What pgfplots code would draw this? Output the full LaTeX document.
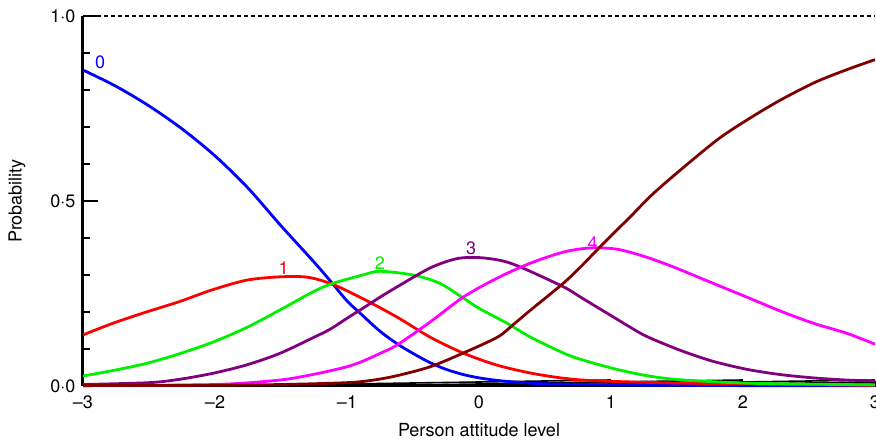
\documentclass[border=0pt]{standalone}
\usepackage{fontspec}
\setmainfont{TeX Gyre Heros}
\usepackage{pgfplots}
\pgfplotsset{compat=1.18}

\definecolor{cat0}{RGB}{0,0,255}
\definecolor{cat1}{RGB}{255,0,0}
\definecolor{cat2}{RGB}{0,240,0}
\definecolor{cat3}{RGB}{128,0,128}
\definecolor{cat4}{RGB}{255,0,255}
\definecolor{cat5}{RGB}{128,0,0}

\begin{document}
\begin{tikzpicture}
\begin{axis}[
	at={(83pt,57pt)},anchor=south west,
	scale only axis,width=792pt,height=370pt,
	xmin=-3,xmax=3,ymin=0,ymax=1,
	clip=false,
	axis x line=bottom,axis y line=left,
	axis line style={line width=3pt,-},
	tick align=inside,
	xtick={-3,...,3},
	xticklabels={–3,–2,–1,0,1,2,3},
	xtick style={draw=none},
	ytick={0,0.5,1},
	yticklabels={0·0,0·5,1·0},
	minor ytick={0.1,0.2,0.3,0.4,0.6,0.7,0.8,0.9},
	major tick length=15pt,minor tick length=7pt,
	tick style={black,line width=1.6pt},
	tick label style={font=\fontsize{18}{21}\selectfont},
	yticklabel style={xshift=-4pt},
	xticklabel style={yshift=-6pt},
	label style={font=\fontsize{18}{21}\selectfont},
	xlabel={Person attitude level},
	ylabel={Probability},
	xlabel style={at={(axis description cs:0.5,0)},anchor=north,yshift=-34pt},
	ylabel style={at={(axis description cs:0,0.5)},anchor=south,xshift=0pt,yshift=54pt},
	every axis plot/.append style={line width=2.8pt,smooth,tension=0.5,line join=round},
]
% small x ticks pointing up
\foreach \t in {-2,-1,0,1,2,3}{
	\edef\temp{\noexpand\draw[black,line width=1.6pt] (axis cs:\t,0) -- ++(0,6pt);}
	\temp
}
\draw[black,line width=1.2pt,dash pattern=on 4pt off 3pt] (axis cs:-3,1) -- (axis cs:3,1);

\addplot[cat0] coordinates {
(-3,0.854)(-2.75,0.81)(-2.5,0.757)(-2.25,0.695)(-2,0.622)(-1.75,0.535)
(-1.5,0.433)(-1.25,0.335)(-1.11,0.277)(-1,0.23)(-0.88,0.19)(-0.75,0.148)
(-0.62,0.114)(-0.5,0.088)(-0.37,0.063)(-0.25,0.045)(-0.12,0.031)(0,0.022)
(0.14,0.015)(0.3,0.01)(0.5,0.006)(1,0.003)(2,0.001)(3,0.0005)};
\addplot[cat1] coordinates {
(-3,0.138)(-2.77,0.17)(-2.52,0.20)(-2.27,0.228)(-2.02,0.26)(-1.76,0.286)
(-1.51,0.295)(-1.3,0.294)(-1.11,0.275)(-0.88,0.236)(-0.62,0.186)(-0.37,0.132)
(-0.12,0.089)(0.13,0.057)(0.39,0.035)(0.64,0.021)(0.89,0.014)(1.5,0.008)
(2.4,0.004)(3,0.002)};
\addplot[cat2] coordinates {
(-3,0.027)(-2.77,0.042)(-2.52,0.061)(-2.27,0.087)(-2.02,0.118)(-1.76,0.158)
(-1.51,0.205)(-1.26,0.254)(-1.11,0.277)(-0.88,0.30)(-0.75,0.31)(-0.5,0.30)
(-0.3,0.278)(-0.12,0.238)(0,0.21)(0.21,0.17)(0.39,0.132)(0.64,0.089)
(0.77,0.072)(1.02,0.047)(1.27,0.028)(1.52,0.017)(2,0.008)(2.5,0.005)(3,0.003)};
\addplot[cat3] coordinates {
(-3,0.004)(-2.5,0.009)(-2.27,0.018)(-2.02,0.034)(-1.76,0.057)(-1.51,0.088)
(-1.26,0.13)(-1.13,0.153)(-1,0.183)(-0.88,0.21)(-0.75,0.24)(-0.62,0.268)
(-0.37,0.319)(-0.17,0.344)(0,0.347)(0.18,0.338)(0.33,0.319)(0.64,0.268)
(0.77,0.24)(0.89,0.214)(1.02,0.186)(1.14,0.16)(1.27,0.134)(1.52,0.097)
(1.77,0.067)(2.03,0.045)(2.28,0.031)(2.53,0.022)(2.79,0.016)(3,0.014)};
\addplot[cat4] coordinates {
(-3,0.001)(-2,0.004)(-1.51,0.016)(-1.26,0.031)(-1.13,0.041)(-1,0.052)
(-0.88,0.067)(-0.75,0.088)(-0.62,0.111)(-0.37,0.173)(-0.12,0.24)(0.14,0.292)
(0.39,0.332)(0.64,0.362)(0.84,0.373)(1.02,0.371)(1.14,0.362)(1.27,0.348)
(1.39,0.333)(1.52,0.315)(1.77,0.278)(2.03,0.24)(2.28,0.203)(2.53,0.17)
(2.79,0.142)(3,0.113)};
\addplot[cat5] coordinates {
(-3,0.001)(-2,0.002)(-1.5,0.004)(-1,0.009)(-0.8,0.016)(-0.62,0.028)
(-0.37,0.052)(-0.12,0.089)(0.14,0.132)(0.26,0.166)(0.39,0.205)(0.64,0.278)
(0.77,0.322)(0.89,0.366)(1.02,0.413)(1.14,0.455)(1.32,0.52)(1.58,0.60)
(1.83,0.672)(2.08,0.73)(2.3,0.776)(2.56,0.823)(2.81,0.858)(3,0.882)};

\node[cat0,font=\fontsize{18}{21}\selectfont] at (axis cs:-2.87,0.875) {0};
\node[cat1,font=\fontsize{18}{21}\selectfont] at (axis cs:-1.48,0.318) {1};
\node[cat2,font=\fontsize{18}{21}\selectfont] at (axis cs:-0.75,0.332) {2};
\node[cat3,font=\fontsize{18}{21}\selectfont] at (axis cs:-0.06,0.373) {3};
\node[cat4,font=\fontsize{18}{21}\selectfont] at (axis cs:0.86,0.386) {4};
\node[cat5,font=\fontsize{18}{21}\selectfont] at (axis cs:3.05,0.9) {5};
\end{axis}
\pgfresetboundingbox
\useasboundingbox (0,0) rectangle (876pt,443pt);
\end{tikzpicture}
\end{document}
